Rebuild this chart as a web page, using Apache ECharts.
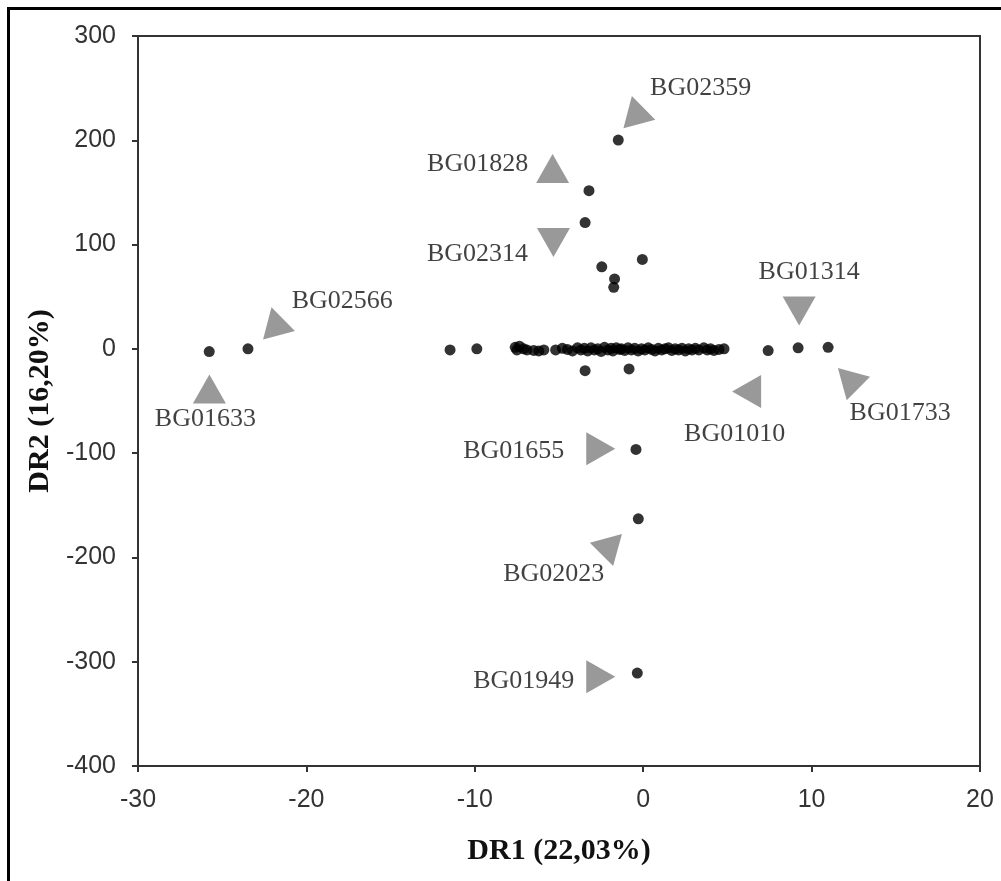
<!DOCTYPE html>
<html>
<head>
<meta charset="utf-8">
<script src="https://cdn.jsdelivr.net/npm/echarts@6/dist/echarts.min.js"></script>
<style>
html,body{margin:0;padding:0;background:#fff;}
#chart{width:1001px;height:881px;}
</style>
</head>
<body>
<div id="chart"></div>
<script>
// ---- data ----
const xTitle = 'DR1 (22,03%)';
const yTitle = 'DR2 (16,20%)';
const xTicks = [-30, -20, -10, 0, 10, 20];
const yTicks = [-400, -300, -200, -100, 0, 100, 200, 300];

// accession scores (DR1, DR2)
const scoreDR1 = [
  -25.77, -23.47, -11.47, -9.88,
  -7.6, -7.5, -7.35, -7.1, -6.9, -6.5, -6.2, -5.9,
  -5.2, -4.8, -4.5, -4.2, -3.9, -3.7, -3.5, -3.3, -3.1, -2.9, -2.7, -2.5, -2.3, -2.1, -1.9, -1.8,
  -1.6, -1.4, -1.3, -1.1, -0.9, -0.7, -0.5, -0.3, -0.1, 0.1, 0.3, 0.5, 0.7, 0.9, 1.1, 1.3,
  1.5, 1.7, 1.9, 2.1, 2.3, 2.5, 2.7, 2.9, 3.1, 3.3, 3.6, 3.8, 4.0, 4.2, 4.5, 4.8,
  -3.45, -0.84,
  -1.48, -3.22, -3.45, -2.46, -0.05, -1.7, -1.75,
  -0.43, -0.29, -0.35,
  7.42, 9.2, 10.98
];
const scoreDR2 = [
  -2.6, 0, -1, 0,
  1.5, -1, 2.5, 0, -1, -1.5, -2, -1,
  -1, 0.5, -0.5, -2, 1, -1, 0.5, -2, 1, -1, 0, -2.5, 1.5, -1, 0.5, -2,
  1, -0.5, 0, -1.5, 1, -1, 0.5, -2, 0, -1, 1, -0.5, -2, 0.5, -1, 0,
  1, -1.5, 0, -1, 0.5, -2, 0, -1, 0.5, -1, 1, -1, 0, -1.5, -0.5, 0,
  -20.9, -19.3,
  200.2, 151.7, 121.1, 78.7, 85.8, 67, 59,
  -96.4, -163, -310.9,
  -1.6, 1, 1.5
];

// highlighted accessions: arrow-head positions (DR1, DR2)
const accessions = ['BG02359', 'BG01828', 'BG02314', 'BG02566', 'BG01633', 'BG01314', 'BG01010', 'BG01733', 'BG01655', 'BG02023', 'BG01949'];
const arrowDR1 = [-0.45, -5.38, -5.33, -21.85, -25.76, 9.26, 6.14, 12.17, -2.52, -1.87, -2.52];
const arrowDR2 = [229, 172.9, 102, 26.5, -38.6, 36.2, -41, -28.2, -95.7, -187.3, -314.3];

// ---- styling (kept apart from the data) ----
const arrowRotate = {
  BG02359: 15, BG01828: 0, BG02314: 180, BG02566: 15, BG01633: 0, BG01314: 180,
  BG01010: 90, BG01733: 45, BG01655: -90, BG02023: -45, BG01949: -90
};
const labelOffset = {
  BG02359: [65, -22], BG01828: [-75, -4], BG02314: [-76, 12], BG02566: [67, -20],
  BG01633: [-4, 30], BG01314: [10, -39], BG01010: [-12, 43], BG01733: [52, 35],
  BG01655: [-87, 3], BG02023: [-58, 30], BG01949: [-77, 5]
};

const points = scoreDR1.map((x, i) => [x, scoreDR2[i]]);
const arrows = accessions.map((n, i) => ({ name: n, value: [arrowDR1[i], arrowDR2[i]] }));
const labels = accessions.map((n, i) => ({
  name: n,
  value: [arrowDR1[i], arrowDR2[i]],
  label: { offset: labelOffset[n] }
}));

const chart = echarts.init(document.getElementById('chart'), null, { renderer: 'canvas' });
const tickFont = { fontFamily: 'Liberation Sans', fontSize: 25, color: '#333' };

chart.setOption({
  backgroundColor: '#fff',
  animation: false,
  grid: {
    left: 138, right: 21, top: 36, bottom: 115,
    show: true, borderColor: '#333', borderWidth: 2, backgroundColor: 'transparent'
  },
  xAxis: {
    type: 'value',
    min: xTicks[0], max: xTicks[xTicks.length - 1], interval: 10,
    splitLine: { show: false },
    axisLine: { show: true, onZero: false, lineStyle: { color: '#333', width: 2 } },
    axisTick: { show: true, length: 6, lineStyle: { color: '#333', width: 2 } },
    axisLabel: Object.assign({ margin: 22 }, tickFont),
    name: xTitle, nameLocation: 'middle', nameGap: 70,
    nameTextStyle: { fontFamily: 'Liberation Serif', fontWeight: 'bold', fontSize: 30, color: '#111' }
  },
  yAxis: {
    type: 'value',
    min: yTicks[0], max: yTicks[yTicks.length - 1], interval: 100,
    splitLine: { show: false },
    axisLine: { show: true, onZero: false, lineStyle: { color: '#333', width: 2 } },
    axisTick: { show: true, length: 6, lineStyle: { color: '#333', width: 2 } },
    axisLabel: Object.assign({ margin: 22 }, tickFont),
    name: yTitle, nameLocation: 'middle', nameGap: 82, nameRotate: 90,
    nameTextStyle: { fontFamily: 'Liberation Serif', fontWeight: 'bold', fontSize: 30, color: '#111' }
  },
  series: [
    {
      type: 'scatter', data: points, symbol: 'circle', symbolSize: 11,
      itemStyle: { color: '#000' }, silent: true, z: 3
    },
    {
      type: 'scatter', data: arrows, symbol: 'triangle', symbolSize: [33, 29],
      symbolRotate: (v, p) => arrowRotate[p.name],
      itemStyle: { color: '#808080' }, silent: true, z: 2
    },
    {
      type: 'scatter', data: labels, symbol: 'circle', symbolSize: 2,
      itemStyle: { color: 'rgba(0,0,0,0)' }, silent: true, z: 4,
      label: {
        show: true, position: 'inside', formatter: '{b}',
        fontFamily: 'Liberation Serif', fontSize: 26, color: '#111'
      }
    }
  ],
  graphic: [
    { type: 'line', shape: { x1: 7, y1: 8.5, x2: 1001, y2: 8.5 }, style: { stroke: '#000', lineWidth: 3 } },
    { type: 'line', shape: { x1: 8.5, y1: 7, x2: 8.5, y2: 881 }, style: { stroke: '#000', lineWidth: 3 } }
  ]
});
</script>
</body>
</html>
